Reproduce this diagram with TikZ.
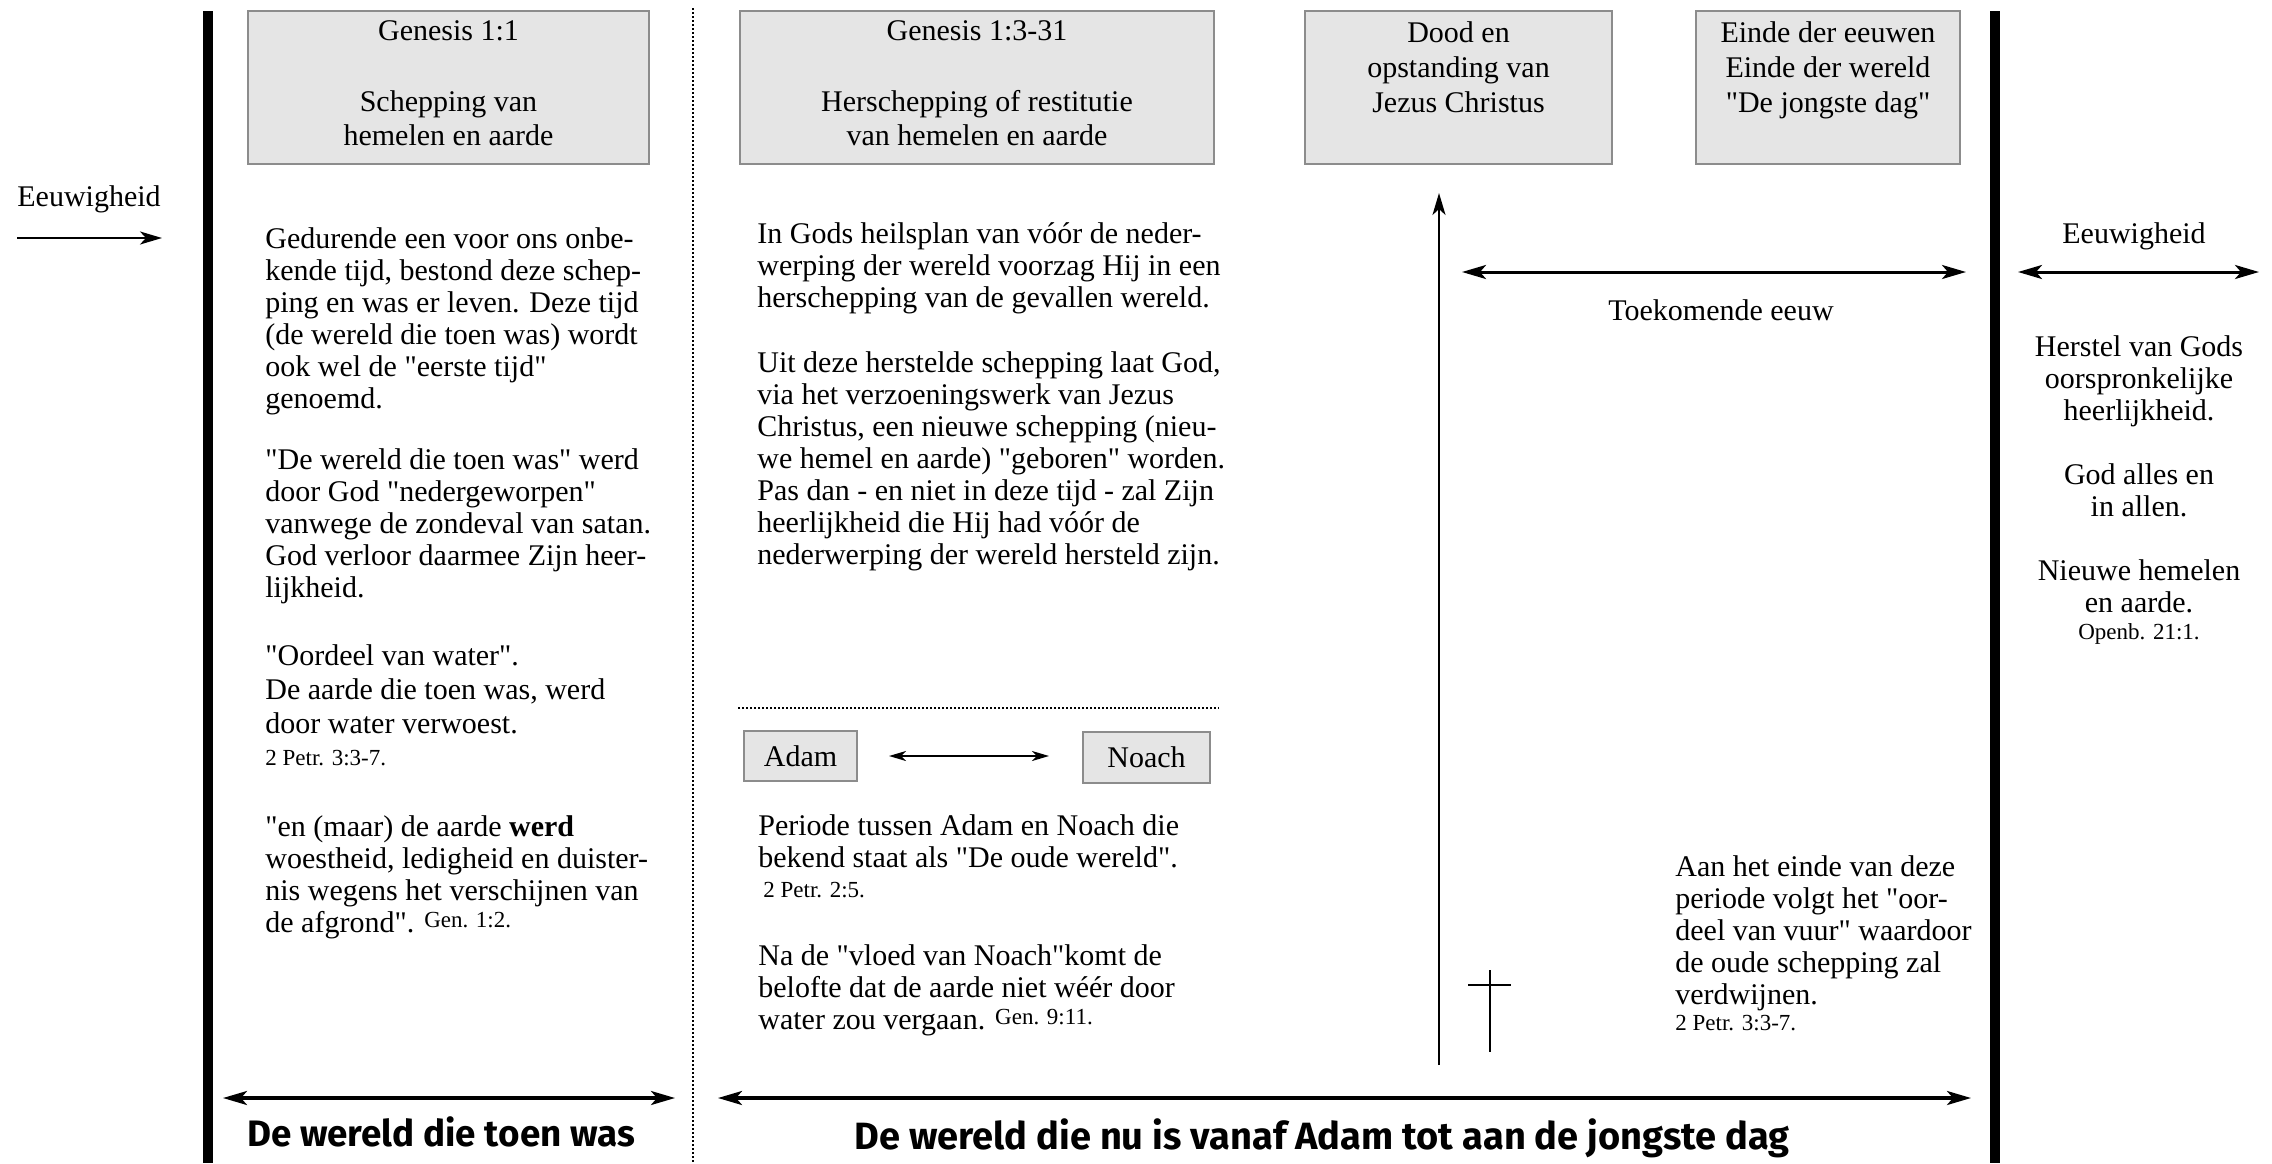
\documentclass[tikz,border=0pt]{standalone}
\usepackage{fontspec}
\setmainfont{Liberation Serif}[Ligatures=TeXOff]
\newfontfamily\comicfont{Fira Sans}
\usetikzlibrary{arrows.meta,positioning}

\begin{document}
\begin{tikzpicture}[x=0.5pt,y=-0.5pt]
	\tikzstyle{erabox} = [draw=black!45, line width=1pt, fill=black!10, shape=rectangle, inner sep=0pt]
	\tikzstyle{boxtext} = [anchor=north, align=center, inner sep=0pt, font=\fontsize{15}{17}\selectfont]
	\tikzstyle{bodytext} = [anchor=north west, align=left, inner sep=0pt, font=\fontsize{15}{16}\selectfont]
	\tikzstyle{sidetext} = [anchor=north, align=center, inner sep=0pt, font=\fontsize{15}{16}\selectfont]
	\tikzstyle{spantext} = [anchor=base, inner sep=0pt, font=\fontsize{15}{16}\selectfont]
	\tikzstyle{worldtext} = [anchor=base, inner sep=0pt, font=\comicfont\bfseries\fontsize{18.4}{20}\selectfont]
	\tikzstyle{spanedge} = [{Stealth[length=12pt,width=7pt,inset=3pt]}-{Stealth[length=12pt,width=7pt,inset=3pt]}, line width=1.5pt]
	\tikzstyle{pairedge} = [{Stealth[length=8.5pt,width=5pt,inset=2.5pt]}-{Stealth[length=8.5pt,width=5pt,inset=2.5pt]}, line width=1pt]
	\tikzstyle{oneedge} = [-{Stealth[length=11pt,width=6.5pt,inset=3pt]}, line width=1.2pt]
	\tikzstyle{edgebar} = [line width=5pt]
	\tikzstyle{divider} = [line width=1pt, dash pattern=on 1pt off 1pt]
	\tikzstyle{crossline} = [line width=1pt]
	\def\vers{\fontsize{11.5}{13}\selectfont}

	\useasboundingbox (0,0) rectangle (2272,1163);

	% BARS %
	\draw[edgebar] (208,11) -- (208,1163);
	\draw[edgebar] (1995,11) -- (1995,1163);
	\draw[divider] (693,8) -- (693,1163);
	\draw[divider] (738,708) -- (1219,708);

	% BOXES %
	\node[erabox, minimum width=200.5pt, minimum height=76.5pt] (gen1) at (448.5,87.5) {};
	\node[erabox, minimum width=237pt, minimum height=76.5pt] (gen3) at (977,87.5) {};
	\node[erabox, minimum width=153.5pt, minimum height=76.5pt] (dood) at (1458.5,87.5) {};
	\node[erabox, minimum width=132pt, minimum height=76.5pt] (einde) at (1828,87.5) {};
	\node[erabox, minimum width=56.5pt, minimum height=25pt, font=\fontsize{15}{16}\selectfont] (adam) at (800.5,756) {Adam};
	\node[erabox, minimum width=63.5pt, minimum height=25.5pt, font=\fontsize{15}{16}\selectfont] (noach) at (1146.5,757.5) {Noach};

	\node[boxtext, below=5.25pt of gen1.north] (gen1text) {Genesis 1:1\\[18.5pt]Schepping van\\hemelen en aarde};
	\node[boxtext, below=5.25pt of gen3.north] (gen3text) {Genesis 1:3-31\\[18.5pt]Herschepping of restitutie\\van hemelen en aarde};
	\node[boxtext, font=\fontsize{15}{17.5}\selectfont, below=5.75pt of dood.north] (doodtext) {Dood en\\opstanding van\\Jezus Christus};
	\node[boxtext, font=\fontsize{15}{17.5}\selectfont, below=5.75pt of einde.north] (eindetext) {Einde der eeuwen\\Einde der wereld\\"De jongste dag"};

	% TEXTS %
	\node[bodytext] (toen1) at (265,227) {Gedurende een voor ons onbe-\\kende tijd, bestond deze schep-\\ping en was er leven. Deze tijd\\(de wereld die toen was) wordt\\ook wel de "eerste tijd"\\genoemd.};
	\node[bodytext] (toen2) at (265,448) {"De wereld die toen was" werd\\door God "nedergeworpen"\\vanwege de zondeval van satan.\\God verloor daarmee Zijn heer-\\lijkheid.};
	\node[bodytext, font=\fontsize{15}{17}\selectfont] (toen3) at (265,644) {"Oordeel van water".\\De aarde die toen was, werd\\door water verwoest.\\[-1pt]{\vers 2 Petr. 3:3-7.}};
	\node[bodytext] (toen4) at (265,815) {"en (maar) de aarde \textbf{werd}\\woestheid, ledigheid en duister-\\nis wegens het verschijnen van\\de afgrond". \raisebox{2.5pt}{\vers Gen. 1:2.}};

	\node[bodytext] (nu1) at (757,222) {In Gods heilsplan van vóór de neder-\\werping der wereld voorzag Hij in een\\herschepping van de gevallen wereld.};
	\node[bodytext] (nu2) at (757,351) {Uit deze herstelde schepping laat God,\\via het verzoeningswerk van Jezus\\Christus, een nieuwe schepping (nieu-\\we hemel en aarde) "geboren" worden.\\Pas dan - en niet in deze tijd - zal Zijn\\heerlijkheid die Hij had vóór de\\nederwerping der wereld hersteld zijn.};
	\node[bodytext] (oud1) at (758,814) {Periode tussen Adam en Noach die\\bekend staat als "De oude wereld".\\[-1pt]\hspace{2.5pt}{\vers 2 Petr. 2:5.}};
	\node[bodytext] (oud2) at (758,944) {Na de "vloed van Noach"komt de\\belofte dat de aarde niet wéér door\\water zou vergaan. \raisebox{2.5pt}{\vers Gen. 9:11.}};
	\node[bodytext] (vuur) at (1675,855) {Aan het einde van deze\\periode volgt het "oor-\\deel van vuur" waardoor\\de oude schepping zal\\verdwijnen.\\[-3pt]{\vers 2 Petr. 3:3-7.}};

	\node[sidetext] (herstel) at (2139,335) {Herstel van Gods\\oorspronkelijke\\heerlijkheid.};
	\node[sidetext] (allen) at (2139,463) {God alles en\\in allen.};
	\node[sidetext] (nieuw) at (2139,559) {Nieuwe hemelen\\en aarde.\\[-2.5pt]{\vers Openb. 21:1.}};

	\node[spantext, anchor=base west] (eeuwl) at (17,206) {Eeuwigheid};
	\node[spantext] (eeuwr) at (2134,243) {Eeuwigheid};
	\node[spantext] (toekomst) at (1721,320) {Toekomende eeuw};

	\node[worldtext] (toenwereld) at (441,1146) {De wereld die toen was};
	\node[worldtext, font=\comicfont\bfseries\fontsize{19}{20}\selectfont] (nuwereld) at (1322,1149) {De wereld die nu is vanaf Adam tot aan de jongste dag};

	% EDGES %
	\coordinate (eeuwlstart) at (17,238);
	\coordinate (eeuwlend) at (162,238);
	\coordinate (toekstart) at (1462,272);
	\coordinate (toekend) at (1966,272);
	\coordinate (eeuwrstart) at (2018,272);
	\coordinate (eeuwrend) at (2259,272);
	\coordinate (toenstart) at (223,1098);
	\coordinate (toenend) at (675,1098);
	\coordinate (nustart) at (718,1098);
	\coordinate (nuend) at (1971,1098);
	\coordinate (opstanding) at (1439,1065);
	\coordinate (opstandingtop) at (1439,193);

	\draw[oneedge] (eeuwlstart) -- (eeuwlend);
	\draw[spanedge] (toekstart) -- (toekend);
	\draw[spanedge] (eeuwrstart) -- (eeuwrend);
	\draw[spanedge, line width=1.6pt] (toenstart) -- (toenend);
	\draw[spanedge, line width=1.6pt] (nustart) -- (nuend);
	\draw[oneedge] (opstanding) -- (opstandingtop);
	\draw[pairedge, shorten <=15.5pt, shorten >=16.5pt] (adam.east) -- (noach.west |- adam.east);

	% CROSS %
	\draw[crossline] (1490,970) -- (1490,1052);
	\draw[crossline] (1468,985) -- (1511,985);
\end{tikzpicture}
\end{document}
